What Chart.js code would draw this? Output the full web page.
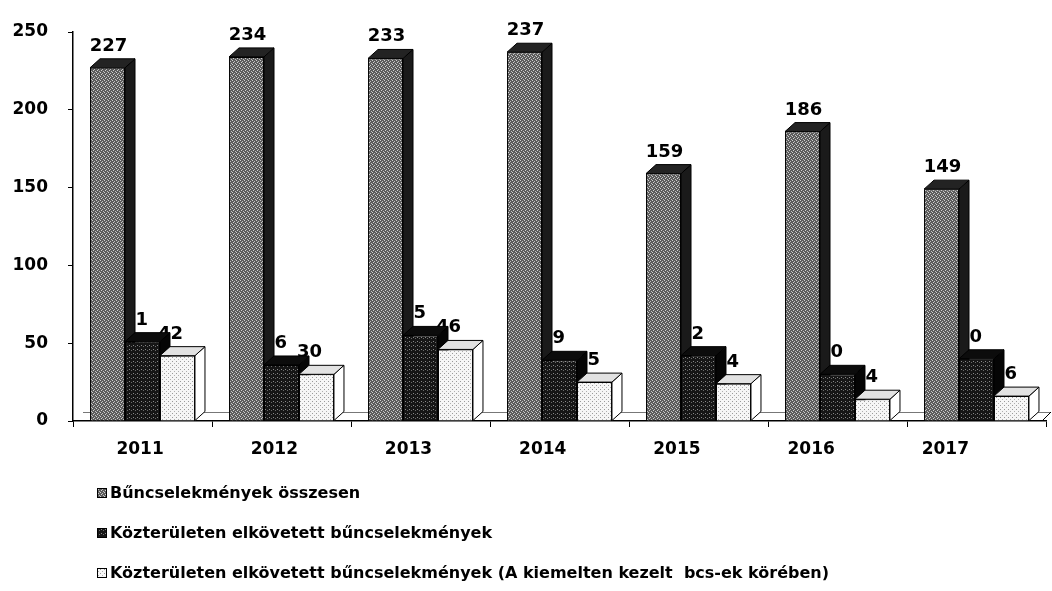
<!DOCTYPE html>
<html>
<head>
<meta charset="utf-8">
<title>Bűncselekmények 2011–2017</title>
<script src="https://cdn.jsdelivr.net/npm/chart.js@4.4.1/dist/chart.umd.min.js"></script>
<style>
  html, body { margin: 0; padding: 0; background: #fff; }
  #wrap { width: 1052px; height: 591px; }
</style>
</head>
<body>
<div id="wrap"><canvas id="chart" width="1052" height="591"></canvas></div>
<script>
// ---- data ----
const years = ['2011', '2012', '2013', '2014', '2015', '2016', '2017'];
const totalCrimes = [227, 234, 233, 237, 159, 186, 149];
const publicSpaceCrimes = [51, 36, 55, 39, 42, 30, 40];
const publicSpacePriorityCrimes = [42, 30, 46, 25, 24, 14, 16];
const seriesNames = [
  'Bűncselekmények összesen',
  'Közterületen elkövetett bűncselekmények',
  'Közterületen elkövetett bűncselekmények (A kiemelten kezelt  bcs-ek körében)'
];
const yTickValues = [0, 50, 100, 150, 200, 250];

// ---- styling ----
const FONT = '"DejaVu Sans", "Liberation Sans", Arial, sans-serif';
const DX = 10, DY = 9;            // depth of the pseudo-3D bars

const canvas = document.getElementById('chart');
const ctx = canvas.getContext('2d');

// small tiled fills that give the bars their printed texture
function tile(base, dots) {
  const c = document.createElement('canvas');
  c.width = 4; c.height = 4;
  const g = c.getContext('2d');
  g.fillStyle = base;
  g.fillRect(0, 0, 4, 4);
  dots.forEach(([x, y, col]) => { g.fillStyle = col; g.fillRect(x, y, 1, 1); });
  return ctx.createPattern(c, 'repeat');
}
const fillTotal = tile('#5c5c5c', [[0, 0, '#d0d0d0'], [2, 1, '#c0c0c0'], [1, 2, '#d0d0d0'], [3, 3, '#c0c0c0']]);
const fillPublic = tile('#161616', [[1, 1, '#8a8a8a'], [3, 2, '#6a6a6a']]);
const fillPriority = tile('#f6f6f6', [[0, 1, '#9a9a9a'], [2, 3, '#b0b0b0']]);

const faceStyles = [
  { top: '#232323', side: '#1a1a1a' },
  { top: '#0c0c0c', side: '#050505' },
  { top: '#e2e2e2', side: '#ffffff' }
];

function polygon(c, pts, fill) {
  c.beginPath();
  c.moveTo(pts[0][0], pts[0][1]);
  for (let i = 1; i < pts.length; i++) c.lineTo(pts[i][0], pts[i][1]);
  c.closePath();
  c.fillStyle = fill;
  c.fill();
  c.lineWidth = 1;
  c.strokeStyle = '#000';
  c.stroke();
}

// draws the floor, the bars with top and side faces, and the value labels
const bars3d = {
  id: 'bars3d',
  beforeDatasetDraw() { return false; },
  afterDatasetsDraw(chart) {
    const c = chart.ctx;
    const a = chart.chartArea;
    const metas = chart.data.datasets.map((_, i) => chart.getDatasetMeta(i));
    c.save();

    // floor
    c.strokeStyle = '#777';
    c.lineWidth = 1;
    c.beginPath();
    c.moveTo(a.left + DX, a.bottom - DY + 0.5);
    c.lineTo(a.right + 5, a.bottom - DY + 0.5);
    c.stroke();
    c.strokeStyle = '#000';
    c.beginPath();
    c.moveTo(a.right - 4, a.bottom);
    c.lineTo(a.right + 5, a.bottom - DY);
    c.stroke();

    // labels of the two smaller series sit behind the neighbouring bars
    c.font = 'bold 18px ' + FONT;
    c.textAlign = 'center';
    c.textBaseline = 'alphabetic';
    c.fillStyle = '#000';
    for (let d = 1; d < metas.length; d++) {
      metas[d].data.forEach((el, j) => {
        c.fillText(String(chart.data.datasets[d].data[j]), el.x - 7, el.y - DY - 8);
      });
    }

    // bars, cluster by cluster, back faces first
    for (let j = 0; j < chart.data.labels.length; j++) {
      for (let d = 0; d < metas.length; d++) {
        const el = metas[d].data[j];
        const { x, y, base, width } = el.getProps(['x', 'y', 'base', 'width'], true);
        const l = x - width / 2, r = x + width / 2;
        const st = faceStyles[d];
        polygon(c, [[r, base], [r, y], [r + DX, y - DY], [r + DX, base - DY]], st.side);
        polygon(c, [[l, y], [r, y], [r + DX, y - DY], [l + DX, y - DY]], st.top);
        el.draw(c);
      }
    }

    // totals above the tall bars
    c.fillStyle = '#000';
    metas[0].data.forEach((el, j) => {
      c.fillText(String(chart.data.datasets[0].data[j]), el.x + 1, el.y - DY - 8);
    });
    c.restore();
  }
};

// vertical legend under the plot
const stackedLegend = {
  id: 'stackedLegend',
  afterDraw(chart) {
    const c = chart.ctx;
    const x = 97, y0 = 493, step = 40, box = 10;
    c.save();
    chart.data.datasets.forEach((ds, i) => {
      const y = y0 + i * step;
      c.fillStyle = ds.backgroundColor;
      c.fillRect(x, y - box / 2, box, box);
      c.strokeStyle = '#000';
      c.lineWidth = 1;
      c.strokeRect(x + 0.5, y - box / 2 + 0.5, box - 1, box - 1);
      c.fillStyle = '#000';
      c.font = 'bold 16px ' + FONT;
      c.textAlign = 'left';
      c.textBaseline = 'middle';
      c.fillText(ds.label, x + 13, y + 1);
    });
    c.restore();
  }
};

new Chart(ctx, {
  type: 'bar',
  data: {
    labels: years,
    datasets: [
      { label: seriesNames[0], data: totalCrimes, backgroundColor: fillTotal, borderColor: '#000', borderWidth: 1 },
      { label: seriesNames[1], data: publicSpaceCrimes, backgroundColor: fillPublic, borderColor: '#000', borderWidth: 1 },
      { label: seriesNames[2], data: publicSpacePriorityCrimes, backgroundColor: fillPriority, borderColor: '#000', borderWidth: 1 }
    ]
  },
  options: {
    responsive: false,
    animation: false,
    devicePixelRatio: 1,
    layout: { padding: { left: 0, top: 32, right: 6, bottom: 130 } },
    datasets: { bar: { categoryPercentage: 0.755, barPercentage: 1 } },
    plugins: { legend: { display: false }, tooltip: { enabled: false } },
    scales: {
      x: {
        position: 'bottom',
        grid: { drawOnChartArea: false, drawTicks: true, tickLength: 6, color: '#000', lineWidth: 1 },
        border: { color: '#000', width: 1.5 },
        ticks: { display: false },
        afterFit(s) { s.height = 6; }
      },
      years: {
        type: 'linear',
        position: 'bottom',
        offset: false,
        min: -0.5,
        max: 6.75,
        afterBuildTicks(s) { s.ticks = years.map((_, i) => ({ value: i })); },
        grid: { display: false, offset: false },
        border: { display: false },
        ticks: {
          color: '#000',
          padding: 4,
          maxRotation: 0,
          autoSkip: false,
          font: { family: FONT, weight: 'bold', size: 17 },
          callback: (v) => years[v]
        },
        afterFit(s) { s.height = 34; }
      },
      y: {
        min: 0,
        max: 250,
        afterBuildTicks(s) { s.ticks = yTickValues.map(v => ({ value: v })); },
        grid: { drawOnChartArea: false, drawTicks: true, tickLength: 5, color: '#000' },
        border: { color: '#000', width: 1.5 },
        ticks: {
          color: '#000',
          padding: 20,
          font: { family: FONT, weight: 'bold', size: 17 }
        },
        afterFit(s) { s.width = 73; }
      }
    }
  },
  plugins: [bars3d, stackedLegend]
});
</script>
</body>
</html>
